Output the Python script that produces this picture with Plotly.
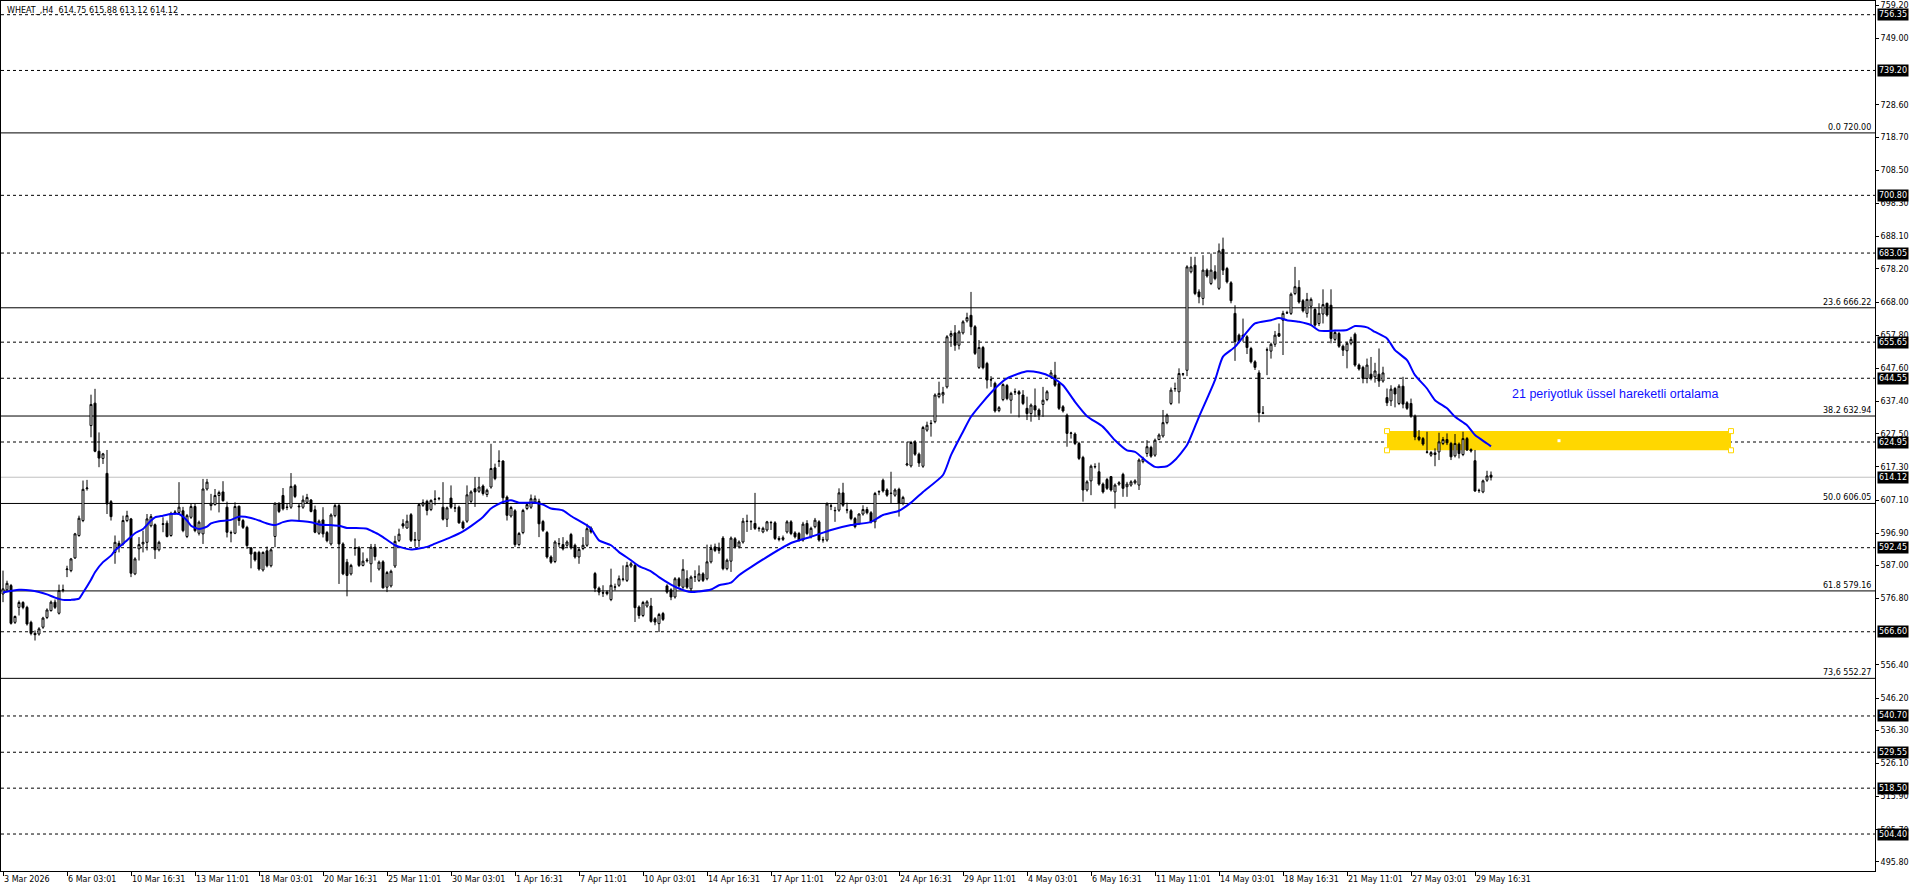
import plotly.graph_objects as go

# ---------------- data ----------------
open_ = [578.2,579.5,580.8,569.5,574.1,575.6,574.1,569.5,566.1,565.9,568.0,571.0,573.1,575.7,572.3,579.3,585.7,585.4,589.3,596.2,
600.8,610.6,630.0,636.9,622.1,619.9,615.3,606.6,591.0,593.8,593.6,600.8,601.3,584.4,592.1,593.6,594.1,599.2,599.5,591.8,
599.6,600.0,596.2,603.2,603.3,603.8,595.9,601.8,605.1,596.9,596.7,610.5,605.4,605.7,608.5,609.6,604.9,597.1,596.9,605.2,
600.8,598.7,592.4,591.0,591.0,585.6,591.5,586.9,595.9,606.1,608.5,604.8,604.9,611.5,605.0,604.9,606.4,607.1,604.1,596.9,
601.0,597.1,593.6,602.3,605.4,593.6,588.0,584.4,592.2,592.4,587.0,588.4,587.5,592.6,585.9,588.1,580.3,580.7,586.8,594.7,
599.8,598.5,602.6,594.7,594.7,605.5,606.7,604.2,607.3,607.5,604.9,601.2,607.7,604.6,604.9,600.3,600.6,606.7,610.6,609.8,
611.4,608.8,611.1,617.0,619.0,619.1,608.0,602.2,603.8,593.4,597.1,604.5,604.9,606.5,606.7,600.5,597.1,589.6,588.2,593.6,
593.4,593.2,596.5,593.2,589.6,592.2,593.2,598.5,584.5,580.0,578.6,578.8,576.5,580.3,580.9,582.7,582.4,586.8,587.0,574.2,
571.6,574.5,574.5,570.6,569.1,572.2,580.7,579.5,577.3,582.9,580.3,582.9,579.8,583.4,582.4,584.4,582.9,588.1,592.7,592.4,
595.4,586.0,588.3,595.2,592.7,594.2,600.5,600.4,599.9,598.3,597.3,597.9,600.1,600.1,595.3,595.0,597.3,600.4,597.0,596.8,
594.8,599.9,595.8,598.9,600.4,594.8,594.8,605.2,603.8,604.0,609.3,604.0,603.8,601.4,599.9,602.8,604.2,603.2,600.4,609.6,
613.2,610.2,609.1,608.6,610.4,606.1,617.9,617.6,625.0,621.2,617.5,628.6,630.6,631.2,638.9,639.4,641.9,657.5,658.5,654.7,
658.5,662.2,663.9,660.4,647.9,654.0,649.1,644.0,643.0,634.6,638.0,642.3,637.8,640.3,640.4,639.4,635.3,633.7,636.1,634.8,
636.5,638.0,645.0,645.5,642.9,635.8,633.2,627.6,627.4,624.5,620.2,610.2,613.0,617.3,615.8,612.0,613.4,614.3,609.6,612.0,
615.0,611.2,611.7,612.4,611.7,618.9,621.4,623.3,620.9,625.7,626.8,630.9,636.8,641.3,640.4,645.8,647.0,677.3,679.3,671.1,
669.1,677.8,673.7,677.3,672.2,684.2,678.3,673.9,664.5,657.8,657.8,657.3,653.7,649.6,646.2,633.8,653.2,652.9,655.0,658.3,
662.4,664.6,664.5,670.6,672.5,668.4,664.5,666.7,665.7,661.4,664.3,667.6,667.0,656.5,658.3,654.4,653.0,655.3,658.1,648.6,
647.9,644.5,645.8,645.0,645.8,643.7,638.6,637.6,641.4,636.8,642.1,637.0,636.8,632.9,626.5,626.0,621.9,620.9,621.6,621.9,
624.5,625.7,624.5,620.7,624.3,621.1,626.0,622.6,619.2,610.1,609.6,613.2,614.75]

high = [585.4,582.3,581.3,571.6,576.2,576.0,574.6,570.0,567.0,568.0,571.2,573.8,576.2,576.5,581.1,581.1,586.9,589.3,597.0,602.3,
613.1,613.3,639.5,641.3,627.9,621.6,622.5,607.1,596.2,594.6,602.3,603.8,601.6,589.5,595.7,597.7,602.8,602.8,599.9,594.6,
601.8,600.8,603.5,604.0,612.6,605.0,602.8,605.9,605.9,600.8,613.6,613.6,609.0,610.5,610.0,612.9,606.6,597.7,606.4,605.4,
601.3,599.2,592.6,591.3,591.5,591.3,592.8,592.3,606.4,606.4,610.8,605.9,615.4,612.0,605.9,608.5,609.0,607.4,605.4,601.1,
604.9,597.6,603.0,605.9,605.9,594.1,589.0,587.5,595.3,592.9,591.0,589.3,593.6,593.6,588.5,588.6,585.3,585.7,596.1,598.3,
601.2,602.6,603.1,597.3,606.2,607.3,607.2,607.3,610.1,608.0,612.6,605.1,611.6,606.0,605.4,600.8,611.6,610.1,614.2,614.2,
611.9,610.6,624.4,618.3,622.4,619.3,608.5,605.3,604.3,597.3,604.4,606.2,608.8,608.5,607.5,601.0,597.6,590.1,594.7,595.4,
595.7,594.7,597.0,593.7,592.4,595.7,599.8,599.0,585.0,580.5,580.9,579.3,586.0,581.4,583.9,587.0,588.1,588.1,587.5,574.7,
576.1,576.3,577.0,571.1,572.4,572.7,581.2,580.0,583.4,583.4,588.9,585.5,583.9,585.5,587.0,584.9,593.4,593.4,593.7,594.0,
596.0,589.1,595.9,595.7,594.7,601.6,602.6,600.9,609.3,598.9,598.9,600.7,600.7,600.6,596.0,596.2,600.9,600.9,597.5,597.3,
600.4,600.9,598.9,601.6,600.9,595.8,606.4,606.1,605.0,610.7,612.4,606.3,604.3,601.9,603.0,605.5,605.0,603.7,609.6,610.1,
613.7,610.7,615.8,610.7,610.9,608.4,625.0,625.3,625.5,621.7,629.9,631.2,631.7,639.9,643.5,641.9,657.8,659.2,660.9,659.3,
662.4,664.7,671.1,660.9,656.3,654.5,649.6,645.2,643.5,636.0,643.0,642.8,640.4,641.4,640.9,640.9,638.9,636.8,641.4,635.3,
641.9,640.9,647.1,649.6,643.4,636.3,633.7,628.1,627.9,625.0,620.7,613.2,618.0,618.4,618.6,612.5,613.9,614.5,612.2,612.9,
615.5,612.7,613.2,613.5,619.9,620.4,625.5,623.8,626.0,627.6,634.8,633.7,641.7,643.2,647.6,646.2,679.3,681.9,681.9,671.9,
682.4,678.3,682.9,679.3,686.0,687.8,678.8,674.4,667.0,658.3,662.9,657.8,654.2,650.1,647.0,636.0,654.0,655.5,659.1,661.4,
665.3,665.3,670.9,678.8,674.7,668.9,670.8,669.4,666.2,667.6,671.9,667.8,671.9,659.1,658.8,654.9,655.8,657.3,658.6,649.1,
648.4,650.6,651.1,649.3,653.7,648.1,641.4,642.4,641.9,642.7,645.0,637.5,638.3,633.4,628.6,626.5,628.1,622.2,623.0,627.8,
626.5,627.6,625.0,627.4,624.8,628.1,626.5,623.0,622.5,610.6,613.4,616.1,615.88]

low = [575.7,579.3,568.8,569.0,571.6,573.5,568.5,565.5,563.9,565.4,567.5,570.5,572.8,573.6,571.9,578.7,583.4,584.9,589.0,595.8,
600.3,610.0,626.4,621.8,617.2,618.2,602.8,600.8,587.5,591.0,593.1,600.3,583.4,584.0,588.5,591.0,591.6,598.7,589.0,591.3,
597.2,595.6,595.8,602.6,602.8,597.2,595.4,601.3,597.2,596.2,593.6,610.0,603.9,605.4,603.3,606.6,595.6,594.1,596.6,599.2,
598.2,592.1,586.1,588.2,585.4,585.1,586.4,586.4,592.6,603.1,603.9,604.0,604.4,607.7,600.8,604.4,606.0,603.3,596.9,596.4,
595.6,594.1,593.1,601.8,581.3,584.0,577.5,583.9,590.0,586.5,586.7,587.9,581.8,588.5,585.4,579.9,578.8,580.2,586.2,594.2,
598.3,598.3,594.2,592.7,592.7,605.0,602.4,603.7,605.5,607.0,600.8,598.8,604.4,603.4,599.8,598.1,600.1,606.2,605.0,609.3,
608.5,608.0,610.6,613.2,617.3,606.0,600.8,601.7,592.7,592.9,596.6,604.0,604.4,606.0,595.7,597.3,589.1,587.5,587.7,592.7,
591.6,592.7,591.9,589.1,587.5,591.7,592.7,596.8,578.8,577.8,577.3,577.8,576.0,579.3,580.4,582.1,581.9,586.3,569.6,570.6,
571.1,574.0,569.4,568.6,566.5,569.9,578.3,576.3,576.8,580.2,579.8,579.8,578.8,581.9,581.9,581.9,582.4,587.6,591.1,590.6,
585.5,585.5,585.0,592.2,592.2,593.7,597.3,597.9,597.9,597.4,596.9,597.4,597.9,594.8,594.4,594.5,596.8,596.3,595.3,594.3,
594.3,596.3,595.3,598.4,594.3,594.0,594.3,604.0,600.4,603.5,605.0,603.0,600.9,598.4,599.4,602.3,602.7,599.9,598.4,608.6,
609.4,608.1,606.0,608.1,602.0,605.5,617.5,617.1,620.7,617.3,617.0,628.1,626.6,630.7,638.4,636.8,641.4,654.2,653.0,653.4,
658.0,661.7,657.8,651.7,647.4,647.3,641.4,641.9,634.0,634.1,637.5,637.8,633.7,639.4,632.5,636.3,631.7,631.2,632.7,631.7,
632.7,637.5,644.5,641.9,634.8,634.0,623.5,626.0,624.0,619.4,606.6,609.7,608.6,616.8,611.5,609.1,610.2,609.7,604.5,611.5,
608.1,608.1,611.2,611.9,610.2,618.4,620.4,620.1,620.4,625.5,626.3,630.4,636.3,640.4,636.8,645.2,645.2,676.8,670.1,667.6,
667.0,675.5,673.2,674.7,671.7,676.3,673.7,667.6,649.9,655.3,655.8,652.0,649.1,647.1,631.0,633.5,645.5,650.6,654.2,657.3,
651.7,664.3,664.0,670.1,667.5,664.8,663.2,660.9,660.4,660.6,661.4,663.5,655.3,656.0,653.9,651.4,647.6,654.7,648.1,646.9,
643.0,643.0,643.9,643.2,641.9,643.2,636.0,636.0,635.6,636.3,635.3,634.8,632.4,625.5,625.2,623.8,621.4,620.4,617.5,619.4,
624.0,624.0,619.4,620.2,619.9,620.6,622.2,621.7,609.6,609.3,609.2,612.7,613.12]

close = [579.8,581.5,569.2,571.3,575.6,574.1,569.0,566.1,565.7,567.5,570.8,573.3,575.7,574.1,579.3,579.5,585.9,589.0,596.7,601.5,
610.4,610.8,636.5,622.1,620.0,621.3,605.9,602.0,594.1,592.6,600.8,602.3,584.6,589.0,593.4,594.1,601.3,602.0,591.8,594.1,
599.8,595.9,603.0,603.4,604.9,597.7,602.3,605.1,597.7,600.3,610.5,612.6,606.1,608.5,609.4,606.9,597.2,597.0,605.1,600.8,
598.7,593.1,590.5,588.7,585.9,591.0,586.9,591.8,606.1,603.6,604.4,604.9,611.3,608.2,605.2,607.1,607.9,603.6,597.2,600.6,
596.7,594.6,602.5,605.4,593.6,584.4,583.9,587.0,592.4,587.0,588.3,588.6,592.6,589.7,588.0,580.1,584.8,585.2,594.4,596.6,
599.1,600.6,594.7,594.9,605.7,606.3,603.9,607.0,607.4,607.6,601.2,604.7,604.9,604.7,600.1,598.5,608.7,609.6,609.6,611.1,
609.1,610.1,616.8,613.7,619.1,607.8,602.4,604.8,593.4,596.8,603.9,605.7,607.5,607.5,599.8,597.8,589.6,588.0,594.2,593.7,
592.1,594.2,592.4,589.6,591.9,593.2,598.3,597.3,580.0,578.8,578.5,578.3,580.9,580.4,582.9,582.8,587.0,587.5,574.0,571.6,
575.6,575.8,569.8,569.6,571.9,570.4,578.8,577.3,582.9,580.7,585.8,580.3,583.4,583.5,584.4,582.4,588.1,592.2,591.6,591.6,
586.0,588.6,595.4,592.7,594.2,600.6,600.6,600.5,598.4,598.4,598.4,600.4,600.2,595.3,595.0,595.5,600.4,596.8,595.8,594.8,
599.7,596.8,598.4,600.9,594.8,594.9,605.9,605.3,603.9,609.3,605.5,604.1,601.4,598.9,602.8,604.2,603.2,600.4,609.1,609.7,
609.9,608.6,609.2,610.2,606.1,607.9,618.2,624.8,621.2,618.5,629.4,630.1,630.7,639.4,639.9,640.2,657.3,658.3,654.7,658.8,
661.9,663.2,660.4,652.2,654.0,647.8,644.0,644.1,634.5,635.5,642.6,638.3,639.9,640.4,639.7,636.8,633.7,636.3,634.8,633.2,
637.8,640.4,646.2,642.4,635.3,634.5,627.6,627.7,624.5,619.9,610.2,612.7,617.5,617.4,612.0,609.6,610.7,610.2,611.7,612.4,
610.7,612.0,612.7,613.0,619.4,619.8,623.5,620.6,625.5,627.1,630.9,633.2,640.9,641.4,646.0,645.9,678.8,678.8,670.6,669.6,
677.8,676.0,677.8,675.2,683.7,677.8,674.2,668.4,655.8,656.1,657.3,654.0,649.6,647.9,633.9,633.9,653.3,655.0,657.8,657.5,
664.5,664.7,670.4,672.7,668.0,665.3,668.8,668.8,660.9,664.5,667.2,664.0,656.8,658.6,654.4,653.2,655.3,656.5,648.6,647.4,
644.5,648.6,644.5,646.8,643.7,646.2,637.0,641.2,639.7,642.1,636.6,635.3,632.9,626.5,625.7,624.3,621.8,621.7,621.1,625.0,
625.7,624.7,620.4,624.5,621.4,626.0,622.5,622.2,609.9,610.0,613.0,614.5,614.12]

# 21-period EMA as drawn on the chart (bar index, value)
ema_bar = [0,4,7,9,11,13,15,17,19,20,22,23,25,27,28,30,32,33,35,37,38,40,42,44,46,47,49,51,52,54,57,59,62,64,66,68,70,72,75,77,79,82,84,86,88,91,92,94,
95,98,100,102,106,108,112,115,117,120,122,125,127,129,133,135,137,140,142,146,147,149,152,154,157,159,162,164,167,169,172,174,177,179,182,184,187,
197,202,207,212,217,220,224,227,230,235,237,240,242,245,248,251,254,256,259,262,265,268,271,275,278,281,
283,286,288,291,293,296,299,303,305,308,311,313,317,319,321,324,327,329,333,336,338,341,343,346,348,351,353,356,358,361,363,366,368,371,372]
ema_val = [578.7,579.5,579.3,578.8,578.1,577.1,576.4,576.4,576.8,578.6,582.6,584.9,588.0,590.0,591.6,593.6,595.8,596.9,598.2,600.8,601.8,602.3,602.8,602.8,600.8,599.2,598.2,598.9,599.9,600.6,601.0,602.0,601.6,600.8,599.9,599.4,600.3,600.8,600.6,600.3,599.6,599.4,599.2,598.5,598.5,598.3,597.7,596.5,
595.7,593.2,592.4,591.9,592.7,593.7,595.7,597.5,599.1,601.9,604.5,606.5,607.0,606.3,606.3,605.7,604.5,603.9,602.2,599.3,598.3,594.7,593.2,591.1,588.6,586.8,585.2,583.4,581.1,579.9,578.8,579.0,579.6,580.9,581.7,584.0,586.5,
593.9,595.8,597.9,599.4,600.4,602.5,603.8,606.3,609.6,614.8,620.9,628.1,632.7,637.3,641.4,644.5,646.0,646.7,646.3,645.0,642.4,637.3,632.9,629.6,625.5,622.4,
621.9,618.9,617.3,617.5,619.4,624.0,632.7,644.0,651.2,654.2,658.8,661.4,662.4,663.1,662.4,661.9,660.9,659.2,659.2,659.4,660.6,660.2,658.8,656.8,653.2,650.1,645.5,641.4,637.8,635.3,632.7,630.1,627.1,624.5,623.6]

# x-axis (bar index) labels
tick_bars = [0,16,32,48,64,80,96,112,128,144,160,176,192,208,224,240,256,272,288,304,320,336,352,368]
tick_text = ["3 Mar 2026","6 Mar 03:01","10 Mar 16:31","13 Mar 11:01","18 Mar 03:01","20 Mar 16:31","25 Mar 11:01",
             "30 Mar 03:01","1 Apr 16:31","7 Apr 11:01","10 Apr 03:01","14 Apr 16:31","17 Apr 11:01","22 Apr 03:01",
             "24 Apr 16:31","29 Apr 11:01","4 May 03:01","6 May 16:31","11 May 11:01","14 May 03:01","18 May 16:31",
             "21 May 11:01","27 May 03:01","29 May 16:31"]

# right price scale
price_ticks = [759.20,749.00,728.60,718.70,708.50,698.30,688.10,678.20,668.00,657.80,647.60,637.40,627.50,617.30,
               607.10,596.90,587.00,576.80,556.40,546.20,536.30,526.10,515.90,505.70,495.80]

# horizontal support/resistance levels (dashed) and fibonacci levels
sr_levels = [756.35,739.20,700.80,683.05,655.65,644.55,624.95,592.45,566.60,540.70,529.55,518.50,504.40]
fib_levels = [720.00,666.22,632.94,606.05,579.16,552.27]
fib_text = ["0.0 720.00","23.6 666.22","38.2 632.94","50.0 606.05","61.8 579.16","73,6 552.27"]
last_price = 614.12

# zone rectangle
zone_x = [346, 432]
zone_y = [622.4, 628.3]

note_text = "21 periyotluk üssel hareketli ortalama"
note_pos = (403, 639.7)

title_text = "WHEAT_,H4  614.75 615.88 613.12 614.12"

# ---------------- figure ----------------
FONT = "DejaVu Sans"
bars = list(range(len(close)))

fig = go.Figure()

fig.add_trace(go.Candlestick(
    x=bars, open=open_, high=high, low=low, close=close,
    increasing=dict(line=dict(color="black", width=1), fillcolor="white"),
    decreasing=dict(line=dict(color="black", width=1), fillcolor="black"),
    whiskerwidth=0, showlegend=False, hoverinfo="skip"))

fig.add_trace(go.Scatter(x=ema_bar, y=ema_val, mode="lines",
                         line=dict(color="#0000FF", width=2, shape="spline", smoothing=0.6),
                         showlegend=False, hoverinfo="skip"))

# rectangle handles
fig.add_trace(go.Scatter(
    x=[zone_x[0], zone_x[1], zone_x[0], zone_x[1]],
    y=[zone_y[1], zone_y[1], zone_y[0], zone_y[0]],
    mode="markers", marker=dict(symbol="square", size=5, color="white",
                                line=dict(color="#FFD700", width=1)),
    showlegend=False, hoverinfo="skip"))
fig.add_trace(go.Scatter(
    x=[(zone_x[0] + zone_x[1]) / 2], y=[(zone_y[0] + zone_y[1]) / 2],
    mode="markers", marker=dict(symbol="square", size=3, color="white"),
    showlegend=False, hoverinfo="skip"))

shapes = []
shapes.append(dict(type="rect", xref="x", yref="y", x0=zone_x[0], x1=zone_x[1],
                   y0=zone_y[0], y1=zone_y[1], fillcolor="#FFD700",
                   line=dict(width=0), layer="below"))
for lv in sr_levels:
    shapes.append(dict(type="line", xref="paper", yref="y", x0=0, x1=1, y0=lv, y1=lv,
                       line=dict(color="black", width=1, dash="3px,3px"), layer="below"))
for lv in fib_levels:
    shapes.append(dict(type="line", xref="paper", yref="y", x0=0, x1=1, y0=lv, y1=lv,
                       line=dict(color="black", width=1), layer="below"))
shapes.append(dict(type="line", xref="paper", yref="y", x0=0, x1=1, y0=last_price, y1=last_price,
                   line=dict(color="#C0C0C0", width=1), layer="below"))

annotations = []
for lv, txt in zip(fib_levels, fib_text):
    annotations.append(dict(xref="paper", yref="y", x=1, y=lv, text=txt, showarrow=False,
                            xanchor="right", yanchor="bottom", xshift=-2, yshift=-1,
                            font=dict(family=FONT, size=8, color="black")))
for lv in sr_levels + [last_price]:
    annotations.append(dict(xref="paper", yref="y", x=1, y=lv, text=f"{lv:.2f}", showarrow=False,
                            xanchor="left", yanchor="middle", xshift=2,
                            bgcolor="black", borderpad=1,
                            font=dict(family=FONT, size=8, color="white")))
annotations.append(dict(xref="x", yref="y", x=note_pos[0], y=note_pos[1], text=note_text,
                        showarrow=False, xanchor="center", yanchor="middle",
                        font=dict(family="Liberation Sans", size=12.5, color="#1010FF")))
annotations.append(dict(xref="paper", yref="paper", x=0, y=1, text=title_text, showarrow=False,
                        xanchor="left", yanchor="top", xshift=4, yshift=-3,
                        font=dict(family=FONT, size=8, color="black")))

fig.update_layout(
    width=1916, height=888,
    margin=dict(l=1, r=41, t=1, b=17),
    paper_bgcolor="white", plot_bgcolor="white",
    showlegend=False, hovermode=False,
    shapes=shapes, annotations=annotations,
    xaxis=dict(range=[-0.5, 468.0], rangeslider=dict(visible=False),
               tickmode="array", tickvals=tick_bars, ticktext=tick_text,
               ticklabelposition="outside right", ticks="outside", ticklen=4,
               tickcolor="black", showgrid=False, zeroline=False,
               showline=True, linecolor="black", linewidth=1, mirror=True,
               tickfont=dict(family=FONT, size=8, color="black"), fixedrange=True),
    yaxis=dict(range=[493.03, 760.56], side="right",
               tickmode="array", tickvals=price_ticks, ticktext=[f"{v:.2f}" for v in price_ticks],
               ticks="outside", ticklen=3, tickcolor="black", showgrid=False, zeroline=False,
               showline=True, linecolor="black", linewidth=1, mirror=True,
               tickfont=dict(family=FONT, size=8, color="black"), fixedrange=True),
)

fig.write_html("out.html", config={"displayModeBar": False})
